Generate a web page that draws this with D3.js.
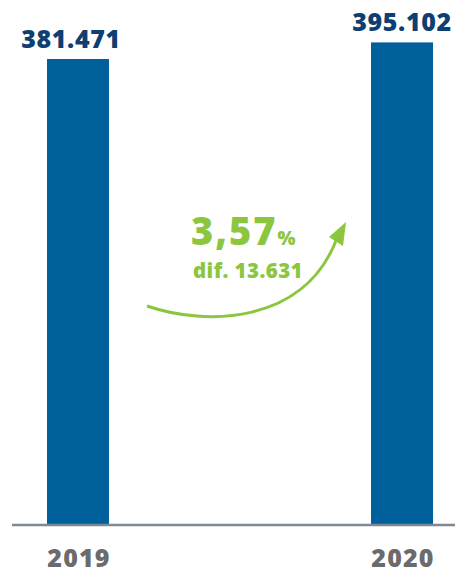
<!DOCTYPE html>
<html><head><meta charset="utf-8">
<script src="https://cdn.jsdelivr.net/npm/d3@7"></script>
<style>html,body{margin:0;padding:0;background:#fff;}svg{display:block;}</style>
</head><body>
<svg id="c" width="455" height="574"></svg>
<script>
const categories = ["2019", "2020"];
const values = [381471, 395102];

const W = 455, H = 574;
const svg = d3.select("#c");
const loc = d3.formatLocale({decimal: ",", thousands: ".", grouping: [3], currency: ["", "€"]});
const fmt = loc.format(",d");
const pct = loc.format(".2f");

const x = d3.scaleBand().domain(categories).range([47, 433]).paddingInner(262/324).paddingOuter(0);
const y = d3.scaleLinear().domain([0, 395102]).range([524, 42.4]);

svg.selectAll("rect.bar").data(categories).join("rect")
  .attr("class", "bar")
  .attr("x", d => x(d)).attr("width", x.bandwidth())
  .attr("y", (d, i) => y(values[i])).attr("height", (d, i) => y(0) - y(values[i]))
  .attr("fill", "#00609c");

// baseline
svg.append("line").attr("x1", 12).attr("x2", W).attr("y1", y(0) + 1).attr("y2", y(0) + 1)
  .attr("stroke", "#7d8a94").attr("stroke-width", 2.5);

const font = "'Open Sans', sans-serif";
svg.selectAll("text.val").data(categories).join("text")
  .attr("class", "val")
  .attr("x", (d, i) => x(d) + x.bandwidth() / 2 - (i === 0 ? 7 : 0))
  .attr("y", (d, i) => y(values[i]) - 11)
  .attr("text-anchor", "middle")
  .attr("font-family", font).attr("font-weight", 800).attr("font-size", 25)
  .attr("letter-spacing", 0.6)
  .attr("fill", "#0d3f73")
  .text((d, i) => fmt(values[i]));

svg.selectAll("text.cat").data(categories).join("text")
  .attr("class", "cat")
  .attr("x", d => x(d) + x.bandwidth() / 2 + 1)
  .attr("y", 567)
  .attr("text-anchor", "middle")
  .attr("font-family", font).attr("font-weight", 800).attr("font-size", 25)
  .attr("letter-spacing", 1.2)
  .attr("fill", "#6b6b6b")
  .text(d => d);

// annotation
const green = "#8cc63f";
const diff = values[1] - values[0];
const p = diff / values[0] * 100;
const t1 = svg.append("text").attr("x", 191).attr("y", 245)
  .attr("font-family", font).attr("font-weight", 800).attr("fill", green);
t1.append("tspan").attr("font-size", 38).attr("letter-spacing", 2).text(pct(p));
t1.append("tspan").attr("font-size", 19).attr("dx", 0).text("%");
svg.append("text").attr("x", 193).attr("y", 278)
  .attr("font-family", font).attr("font-weight", 800).attr("font-size", 20.5).attr("fill", green)
  .attr("letter-spacing", 0.4)
  .text("dif. " + fmt(diff));

const path = d3.path();
path.moveTo(147, 306);
path.bezierCurveTo(205, 326, 305, 325, 337, 238);
svg.append("path").attr("d", path.toString()).attr("fill", "none")
  .attr("stroke", green).attr("stroke-width", 3);
svg.append("path").attr("d", "M346,222 L343,246 L329,237 Z").attr("fill", green);
</script>
</body></html>
